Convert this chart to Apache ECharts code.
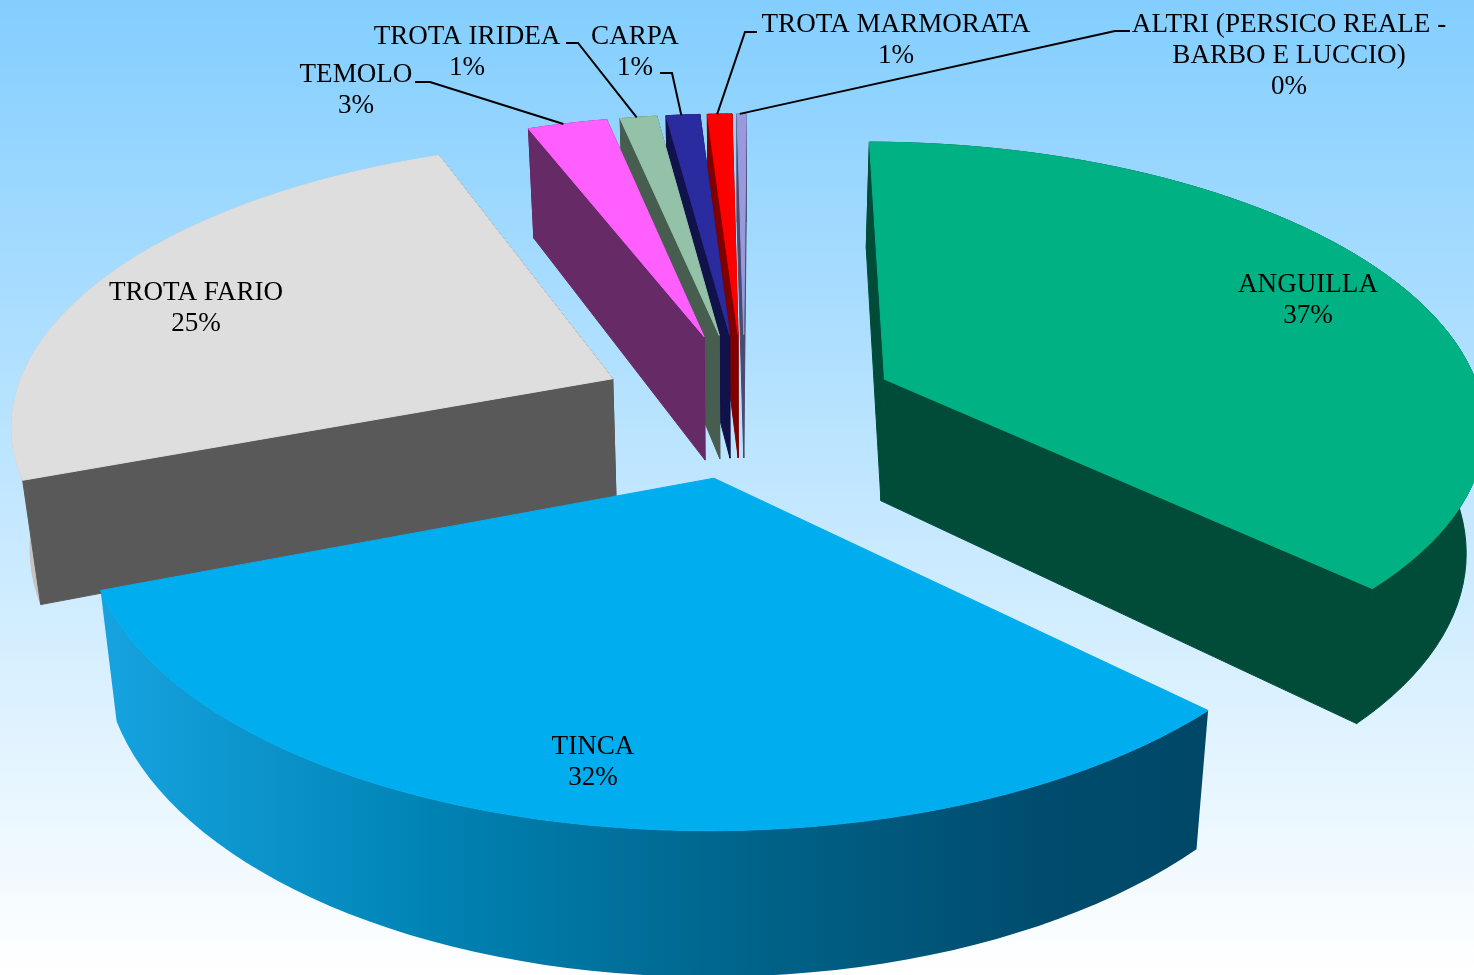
<!DOCTYPE html>
<html><head><meta charset="utf-8">
<style>html,body{margin:0;padding:0;height:100%;overflow:hidden}#c{width:1474px;height:975px}</style>
<script src="https://cdn.jsdelivr.net/npm/echarts@6/dist/echarts.min.js"></script>
</head><body><div id="c"></div>
<script>
// data
const names = ['ANGUILLA','TINCA','TROTA FARIO','TEMOLO','TROTA IRIDEA','CARPA','TROTA MARMORATA','ALTRI (PERSICO REALE -\nBARBO E LUCCIO)'];
const values = [37.25,32.1,24.95,2.6,1.2,1.1,0.8,0.3];
const topColors = ['#00b183','#00adef','#dedede','#ff5fff','#93c2a8','#2b2ba0','#ff0000','#9999dd'];
const wallColors = ['#004c39','#004767','#595959','#662a66','#465d50','#12124a','#800000','#4a4a70'];
const outerColors = ['#004c39',null,'#c4c4c4','#662a66','#465d50','#12124a','#800000','#4a4a70'];
// layout
const paintRank = [5,7,6,4,3,2,1,0];
const explode = [0.27,0.235,0.254,0.29,0.29,0.29,0.29,0.29];
const explodeTurn = [-3.5,0,4.7,3,1.5,1,0.5,0.5];
const radiusScale = [1.01,1.006,1.012,0.98,0.98,0.98,0.98,0.98];
const depthScale = [1.03,1,1,1.07,1.07,1.07,1.07,1.07];
const labelCenters = [[1308,300],[593,762],[196,308],[356,90],[467,52],[635,52],[896,40],[1289,56]];
const leaderElbows = [null,null,null,[[415,82],[430,82]],[[566,43],[578,43]],[[660,73],[672,73]],[[757,32],[745,32]],[[1130,31],[1115,31]]];
const leaderTip = [0,0,0,0.45,0.45,0.45,0.4,0.3];
const CX=743, CY=412, KX=595, KY=278, T=0.145, D=120, S=0.975, START=0.3;
const total = values.reduce((a,b)=>a+b,0);

function proj(u,v,bottom,ds){
  const p=1/(1+T*v);
  const x=KX*u*p, y=-KY*v*p;
  return bottom ? [CX+x*S, CY+y+D*ds*p] : [CX+x, CY+y];
}
function arcPts(a0,a1,ox,oy,r,bottom,ds){
  const n=Math.max(20,Math.ceil(Math.abs(a1-a0)/2)), pts=[];
  for(let i=0;i<=n;i++){
    const a=(a0+(a1-a0)*i/n)*Math.PI/180;
    pts.push(proj(ox+r*Math.sin(a),oy+r*Math.cos(a),bottom,ds));
  }
  return pts;
}
function poly(points,fill,z2,stroke){
  return {type:'polygon',shape:{points},style:{fill,stroke:stroke||null,lineWidth:stroke?1:0},z2,silent:true};
}

function renderItem(params,api){
  const i=params.dataIndex;
  let before=0; for(let k=0;k<i;k++) before+=values[k];
  const a0=START+before/total*360, a1=START+(before+api.value(0))/total*360, mid=(a0+a1)/2;
  const E=explode[i], r=radiusScale[i], ds=depthScale[i], dir=(mid+explodeTurn[i])*Math.PI/180;
  const ox=E*Math.sin(dir), oy=E*Math.cos(dir);
  const topArc=arcPts(a0,a1,ox,oy,r,false,ds), botArc=arcPts(a0,a1,ox,oy,r,true,ds);
  const apexT=proj(ox,oy,false,ds), apexB=proj(ox,oy,true,ds);
  const z=paintRank[i]*10+1, wall=wallColors[i];
  let outerFill=outerColors[i];
  if(i===1){
    outerFill={type:'linear',x:0,y:0,x2:1,y2:0,colorStops:[
      {offset:0,color:'#16a3e0'},{offset:0.3,color:'#0083b4'},{offset:0.6,color:'#006288'},{offset:0.85,color:'#004c6e'},{offset:1,color:'#004767'}]};
  }
  const children=[poly(topArc.concat(botArc.slice().reverse()),outerFill,z,i===1?null:outerColors[i])];
  if(i!==1){
    children.push(poly([apexT,topArc[0],botArc[0],apexB],wall,z+1,wall));
    children.push(poly([apexT,topArc[topArc.length-1],botArc[botArc.length-1],apexB],wall,z+1,wall));
  }
  children.push(poly([apexT].concat(topArc),topColors[i],z+2,topColors[i]));
  const pct=Math.round(api.value(0)/total*100)+'%';
  children.push({type:'text',z2:500,silent:true,style:{
    text:names[i]+'\n'+pct,x:labelCenters[i][0],y:labelCenters[i][1],align:'center',verticalAlign:'middle',
    font:'27.1px "Liberation Serif"',lineHeight:31,fill:'#000'}});
  if(leaderElbows[i]){
    const tip=topArc[Math.round((topArc.length-1)*leaderTip[i])];
    children.push({type:'polyline',z2:400,silent:true,shape:{points:leaderElbows[i].concat([tip])},
      style:{stroke:'#000',lineWidth:2,fill:null}});
  }
  return {type:'group',children};
}
const chart=echarts.init(document.getElementById('c'),null,{renderer:'canvas'});
chart.setOption({
  animation:false,
  backgroundColor:{type:'linear',x:0,y:0,x2:0,y2:1,colorStops:[{offset:0,color:'#83ceff'},{offset:1,color:'#ffffff'}]},
  series:[{type:'custom',coordinateSystem:'none',renderItem,clip:false,silent:true,
    data:values.map((v,i)=>({name:names[i],value:v}))}]
});
</script></body></html>
